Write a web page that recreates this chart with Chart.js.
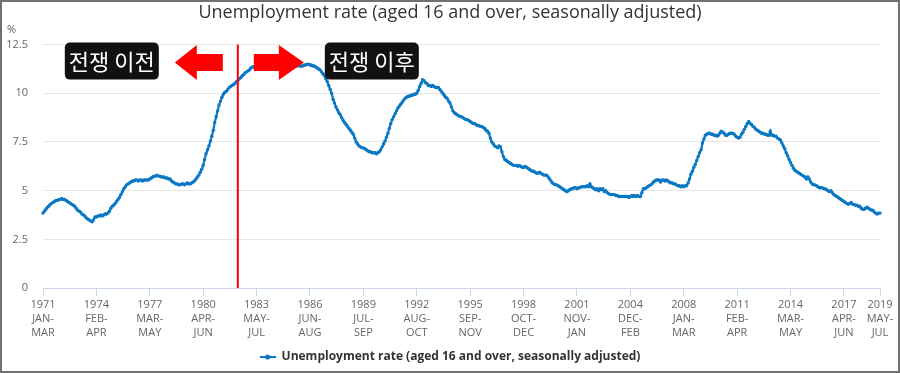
<!DOCTYPE html>
<html>
<head>
<meta charset="utf-8">
<script src="https://cdn.jsdelivr.net/npm/chart.js@4.4.0/dist/chart.umd.min.js"></script>
<style>
  html, body { margin: 0; padding: 0; background: #fff; }
</style>
</head>
<body>
<canvas id="myChart" width="900" height="373"></canvas>
<script>
// rolling 3-month windows, one row per year (JAN-MAR ... DEC-FEB)
var windows = ['JAN-MAR', 'FEB-APR', 'MAR-MAY', 'APR-JUN', 'MAY-JUL', 'JUN-AUG',
               'JUL-SEP', 'AUG-OCT', 'SEP-NOV', 'OCT-DEC', 'NOV-JAN', 'DEC-FEB'];
var firstYear = 1971;
var lastLabel = '2019 MAY-JUL';

// unemployment rate, %
var rates = [
  3.85, 3.95, 4.05, 4.15, 4.2, 4.3, 4.35, 4.4, 4.45, 4.5, 4.5, 4.55,        // 1971
  4.55, 4.6, 4.55, 4.55, 4.5, 4.45, 4.4, 4.35, 4.3, 4.25, 4.2, 4.1,         // 1972
  4.0, 3.95, 3.9, 3.8, 3.75, 3.7, 3.6, 3.55, 3.5, 3.45, 3.4, 3.5,           // 1973
  3.65, 3.65, 3.7, 3.7, 3.75, 3.7, 3.75, 3.8, 3.8, 3.85, 3.95, 4.1,         // 1974
  4.2, 4.25, 4.35, 4.45, 4.55, 4.65, 4.8, 4.95, 5.1, 5.2, 5.3, 5.35,        // 1975
  5.4, 5.45, 5.5, 5.5, 5.55, 5.55, 5.5, 5.55, 5.55, 5.5, 5.55, 5.55,        // 1976
  5.55, 5.55, 5.6, 5.65, 5.7, 5.75, 5.75, 5.8, 5.75, 5.75, 5.7, 5.7,        // 1977
  5.7, 5.65, 5.65, 5.6, 5.6, 5.5, 5.45, 5.4, 5.35, 5.35, 5.3, 5.3,          // 1978
  5.35, 5.35, 5.3, 5.35, 5.4, 5.35, 5.35, 5.4, 5.45, 5.5, 5.6, 5.7,         // 1979
  5.8, 5.95, 6.1, 6.3, 6.6, 6.9, 7.1, 7.3, 7.55, 7.8, 8.1, 8.5,             // 1980
  8.8, 9.1, 9.4, 9.6, 9.8, 9.95, 10.05, 10.1, 10.2, 10.3, 10.35, 10.4,      // 1981
  10.45, 10.5, 10.6, 10.65, 10.75, 10.8, 10.9, 10.95, 11.05, 11.1, 11.15, 11.2, // 1982
  11.3, 11.35, 11.35, 11.4, 11.4, 11.35, 11.4, 11.4, 11.45, 11.4, 11.4, 11.4,  // 1983
  11.4, 11.45, 11.4, 11.4, 11.35, 11.4, 11.4, 11.45, 11.4, 11.4, 11.35, 11.4,  // 1984
  11.4, 11.4, 11.35, 11.4, 11.4, 11.35, 11.4, 11.4, 11.4, 11.45, 11.4, 11.4,   // 1985
  11.4, 11.45, 11.45, 11.5, 11.5, 11.45, 11.45, 11.4, 11.4, 11.35, 11.3, 11.25, // 1986
  11.2, 11.1, 11.0, 10.9, 10.75, 10.6, 10.4, 10.2, 10.0, 9.7, 9.5, 9.3,     // 1987
  9.15, 9.0, 8.9, 8.75, 8.6, 8.5, 8.4, 8.3, 8.2, 8.1, 8.0, 7.9,             // 1988
  7.7, 7.5, 7.4, 7.3, 7.25, 7.2, 7.2, 7.15, 7.1, 7.05, 7.0, 7.0,            // 1989
  6.95, 6.95, 6.95, 6.9, 6.95, 7.0, 7.1, 7.25, 7.4, 7.55, 7.75, 7.95,       // 1990
  8.2, 8.45, 8.65, 8.8, 8.95, 9.1, 9.25, 9.35, 9.45, 9.55, 9.65, 9.75,      // 1991
  9.8, 9.85, 9.85, 9.9, 9.9, 9.95, 9.95, 10.0, 10.15, 10.35, 10.5, 10.7,    // 1992
  10.65, 10.55, 10.5, 10.4, 10.4, 10.35, 10.4, 10.35, 10.3, 10.3, 10.3, 10.2, // 1993
  10.1, 10.0, 9.9, 9.8, 9.75, 9.6, 9.5, 9.3, 9.1, 9.0, 8.95, 8.9,           // 1994
  8.85, 8.8, 8.8, 8.75, 8.7, 8.65, 8.65, 8.6, 8.55, 8.5, 8.45, 8.45,        // 1995
  8.4, 8.35, 8.35, 8.3, 8.3, 8.25, 8.2, 8.1, 8.05, 7.95, 7.7, 7.5,          // 1996
  7.4, 7.3, 7.25, 7.2, 7.3, 7.25, 7.0, 6.75, 6.6, 6.55, 6.5, 6.45,          // 1997
  6.4, 6.35, 6.3, 6.3, 6.3, 6.25, 6.3, 6.25, 6.2, 6.2, 6.25, 6.2,           // 1998
  6.15, 6.1, 6.05, 6.0, 6.0, 5.95, 5.9, 5.9, 5.95, 5.9, 5.85, 5.8,          // 1999
  5.8, 5.8, 5.7, 5.6, 5.5, 5.4, 5.35, 5.3, 5.3, 5.25, 5.2, 5.15,            // 2000
  5.1, 5.05, 5.0, 4.95, 5.0, 5.05, 5.1, 5.1, 5.15, 5.15, 5.1, 5.15,         // 2001
  5.15, 5.2, 5.2, 5.2, 5.2, 5.25, 5.2, 5.35, 5.2, 5.15, 5.1, 5.05,          // 2002
  5.1, 5.0, 5.1, 5.05, 5.1, 4.95, 5.0, 4.9, 4.85, 4.8, 4.8, 4.8,            // 2003
  4.8, 4.75, 4.75, 4.7, 4.7, 4.7, 4.7, 4.7, 4.7, 4.7, 4.65, 4.7,            // 2004
  4.75, 4.7, 4.75, 4.7, 4.75, 4.7, 4.7, 4.9, 5.1, 5.1, 5.15, 5.2,           // 2005
  5.25, 5.3, 5.35, 5.45, 5.5, 5.55, 5.55, 5.55, 5.45, 5.55, 5.55, 5.5,      // 2006
  5.55, 5.5, 5.45, 5.4, 5.4, 5.35, 5.35, 5.3, 5.25, 5.25, 5.2, 5.25,        // 2007
  5.2, 5.25, 5.25, 5.4, 5.6, 5.85, 6.0, 6.2, 6.35, 6.55, 6.75, 6.95,        // 2008
  7.1, 7.45, 7.65, 7.85, 7.9, 7.95, 7.95, 7.9, 7.9, 7.85, 7.85, 7.8,        // 2009
  7.85, 7.95, 8.05, 8.0, 7.95, 7.85, 7.85, 7.9, 7.95, 7.95, 7.95, 7.9,      // 2010
  7.8, 7.75, 7.7, 7.75, 7.9, 8.0, 8.15, 8.3, 8.45, 8.55, 8.45, 8.4,         // 2011
  8.3, 8.25, 8.15, 8.1, 8.05, 8.0, 7.95, 7.95, 7.9, 7.9, 7.85, 7.85,        // 2012
  8.05, 7.85, 7.85, 7.8, 7.8, 7.7, 7.65, 7.6, 7.45, 7.3, 7.15, 6.95,        // 2013
  6.8, 6.6, 6.45, 6.3, 6.15, 6.05, 6.0, 5.95, 5.9, 5.85, 5.8, 5.75,         // 2014
  5.7, 5.6, 5.7, 5.6, 5.45, 5.35, 5.3, 5.3, 5.25, 5.2, 5.15, 5.15,          // 2015
  5.15, 5.1, 5.1, 5.05, 5.0, 4.95, 5.0, 4.9, 4.8, 4.75, 4.7, 4.65,          // 2016
  4.6, 4.55, 4.5, 4.45, 4.4, 4.35, 4.3, 4.35, 4.4, 4.3, 4.3, 4.25,          // 2017
  4.25, 4.2, 4.2, 4.1, 4.05, 4.05, 4.1, 4.15, 4.1, 4.05, 4.0, 4.0,          // 2018
  3.9, 3.85, 3.8, 3.85, 3.85                                                // 2019
];

// labelled ticks on the x axis
var tickLabels = ['1971 JAN-MAR', '1974 FEB-APR', '1977 MAR-MAY', '1980 APR-JUN',
  '1983 MAY-JUL', '1986 JUN-AUG', '1989 JUL-SEP', '1992 AUG-OCT', '1995 SEP-NOV',
  '1998 OCT-DEC', '2001 NOV-JAN', '2004 DEC-FEB', '2008 JAN-MAR', '2011 FEB-APR',
  '2014 MAR-MAY', '2017 APR-JUN', '2019 MAY-JUL'];

var warLabel = '1982 APR-JUN';
var beforeText = '전쟁 이전';
var afterText = '전쟁 이후';
var seriesName = 'Unemployment rate (aged 16 and over, seasonally adjusted)';

var categories = [];
for (var y = firstYear; categories[categories.length - 1] !== lastLabel; y++) {
    for (var m = 0; m < 12; m++) {
        categories.push(y + ' ' + windows[m]);
        if (categories[categories.length - 1] === lastLabel) break;
    }
}

var lineColor = '#0a78c4';

// legend symbol: short line with a dot
var legendIcon = document.createElement('canvas');
legendIcon.width = 16; legendIcon.height = 8;
var lctx = legendIcon.getContext('2d');
lctx.strokeStyle = lineColor; lctx.lineWidth = 2;
lctx.beginPath(); lctx.moveTo(0, 4); lctx.lineTo(16, 4); lctx.stroke();
lctx.fillStyle = lineColor;
lctx.beginPath(); lctx.arc(8, 4, 2.6, 0, Math.PI * 2); lctx.fill();

function drawArrow(c, tail, tip, cy, head) {
    var dir = tip > tail ? 1 : -1;
    var base = tip - dir * head;
    c.fillStyle = '#ff0000';
    c.beginPath();
    c.moveTo(tail, cy - 8.5);
    c.lineTo(base, cy - 8.5);
    c.lineTo(base, cy - 17.5);
    c.lineTo(tip, cy);
    c.lineTo(base, cy + 17.5);
    c.lineTo(base, cy + 8.5);
    c.lineTo(tail, cy + 8.5);
    c.closePath();
    c.fill();
}

function drawTag(c, x, y, w, h, text) {
    c.fillStyle = '#111111';
    c.beginPath();
    c.roundRect(x, y, w, h, 5);
    c.fill();
    c.fillStyle = '#ffffff';
    c.font = '22px "Noto Sans CJK KR"';
    c.textAlign = 'center';
    c.textBaseline = 'middle';
    c.fillText(text, x + w / 2, y + h / 2 + 1);
}

var warPlugin = {
    id: 'war',
    afterDatasetsDraw: function (chart) {
        var c = chart.ctx, area = chart.chartArea;
        var lineX = chart.scales.x.getPixelForValue(categories.indexOf(warLabel));
        c.save();
        c.strokeStyle = '#ff0000';
        c.lineWidth = 2;
        c.beginPath();
        c.moveTo(lineX, area.top);
        c.lineTo(lineX, area.bottom);
        c.stroke();
        var cy = area.top + 18;
        drawArrow(c, lineX - 15, lineX - 63, cy, 22);
        drawArrow(c, lineX + 16, lineX + 66, cy, 25);
        drawTag(c, lineX - 173, area.top - 2, 94, 37, beforeText);
        drawTag(c, lineX + 87, area.top - 2, 94, 37, afterText);
        c.restore();
    },
    afterDraw: function (chart) {
        var c = chart.ctx;
        c.save();
        c.fillStyle = '#666666';
        c.font = '11px "Open Sans"';
        c.textAlign = 'left';
        c.textBaseline = 'middle';
        c.fillText('%', 7, 30);
        c.strokeStyle = '#707070';
        c.lineWidth = 2;
        c.strokeRect(1, 1, chart.width - 2, chart.height - 2);
        c.restore();
    }
};

var ctx = document.getElementById('myChart').getContext('2d');

var graphData = {
    type: 'line',
    data: {
        labels: categories,
        datasets: [{
            label: seriesName,
            data: rates,
            borderColor: lineColor,
            backgroundColor: lineColor,
            borderWidth: 2.2,
            pointRadius: 1.7,
            pointBorderWidth: 0,
            pointBackgroundColor: lineColor,
            pointStyle: 'circle',
            tension: 0
        }]
    },
    options: {
        responsive: false,
        animation: false,
        layout: { padding: { left: 0, right: 0, top: 0, bottom: 0 } },
        plugins: {
            title: {
                display: true,
                text: 'Unemployment rate (aged 16 and over, seasonally adjusted)',
                color: '#333333',
                font: { family: '"Open Sans"', size: 18, weight: 'normal' },
                padding: { top: 2, bottom: 21 }
            },
            legend: {
                position: 'bottom',
                labels: {
                    usePointStyle: true,
                    pointStyleWidth: 16,
                    color: '#333333',
                    font: { family: '"Open Sans"', size: 12, weight: 'bold' },
                    padding: 9,
                    generateLabels: function (chart) {
                        var items = Chart.defaults.plugins.legend.labels.generateLabels(chart);
                        items.forEach(function (it) { it.pointStyle = legendIcon; });
                        return items;
                    }
                }
            },
            tooltip: { enabled: false }
        },
        scales: {
            x: {
                ticks: {
                    autoSkip: false,
                    maxRotation: 0,
                    padding: 2,
                    color: '#666666',
                    font: { family: '"Open Sans"', size: 11, lineHeight: 1.27 },
                    callback: function (value) {
                        var lab = this.getLabelForValue(value);
                        if (tickLabels.indexOf(lab) < 0) return null;
                        var parts = lab.split(' ');
                        var w = parts[1].split('-');
                        return [parts[0], w[0] + '-', w[1]];
                    }
                },
                grid: {
                    drawOnChartArea: false,
                    drawTicks: true,
                    tickLength: 8,
                    color: '#ccd6eb'
                },
                border: { display: true, color: '#ccd6eb', width: 1 }
            },
            y: {
                min: 0,
                max: 12.5,
                ticks: {
                    stepSize: 2.5,
                    padding: 15,
                    color: '#666666',
                    font: { family: '"Open Sans"', size: 11 }
                },
                afterFit: function (scale) { scale.width = 43; },
                grid: {
                    drawTicks: false,
                    color: function (c) { return c.tick.value === 0 ? 'rgba(0,0,0,0)' : '#e6e6e6'; }
                },
                border: { display: false }
            },
            // empty right-hand strip so title and legend stay centred on the canvas
            yRight: {
                position: 'right',
                min: 0,
                max: 12.5,
                ticks: { display: false },
                grid: { display: false },
                border: { display: false },
                afterFit: function (scale) { scale.width = 20; }
            }
        }
    },
    plugins: [warPlugin]
};

var myChart = new Chart(ctx, graphData);
</script>
</body>
</html>
